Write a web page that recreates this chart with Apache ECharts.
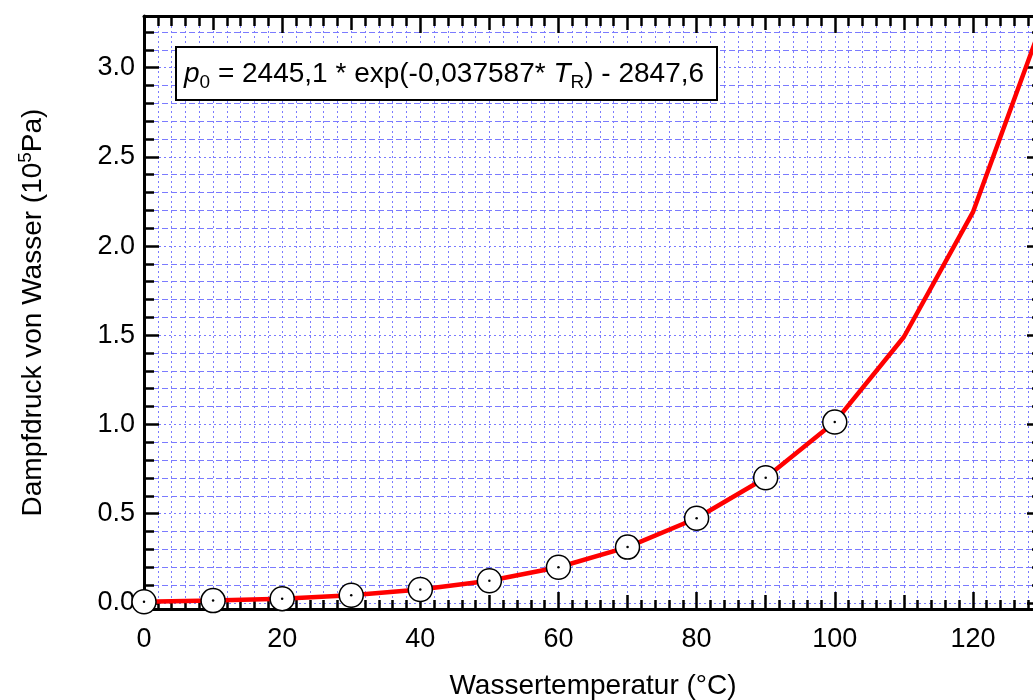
<!DOCTYPE html>
<html>
<head>
<meta charset="utf-8">
<script src="https://cdn.jsdelivr.net/npm/echarts@6/dist/echarts.min.js"></script>
<style>html,body{margin:0;padding:0;background:#fff;}#c{width:1033px;height:700px;}</style>
</head>
<body>
<div id="c"></div>
<script>
// ---- data ----
const temps = [0, 10, 20, 30, 40, 50, 60, 70, 80, 90, 100, 110, 120, 130];
const pressure = [0.006, 0.012, 0.023, 0.042, 0.074, 0.123, 0.199, 0.312, 0.474, 0.701, 1.013, 1.49, 2.19, 3.25];
const markedTemps = [0, 10, 20, 30, 40, 50, 60, 70, 80, 90, 100];

// ---- ticks ----
const xMajor = [0, 20, 40, 60, 80, 100, 120];
const xMid = [10, 30, 50, 70, 90, 110];
const xMinor = [];
for (let v = 2; v < 130; v += 2) xMinor.push(v);
const yMajor = [0, 0.5, 1.0, 1.5, 2.0, 2.5, 3.0];
const yMinor = [];
for (let i = 1; i <= 32; i++) { if (i % 5 !== 0) yMinor.push(+(i / 10).toFixed(1)); }

const X_MIN = 0, X_MAX = 130, Y_MIN = -0.035, Y_MAX = 3.29;
const FONT = '"Liberation Sans", Arial, sans-serif';
const gridBlue = '#7b7bff';

function mkX(position, values, len, extra) {
  return Object.assign({
    type: 'value', position: position, min: X_MIN, max: X_MAX,
    axisLine: { show: false, onZero: false },
    axisLabel: { show: false },
    splitLine: { show: false },
    axisTick: { show: true, inside: true, length: len, customValues: values, lineStyle: { color: '#000', width: 2.5 } }
  }, extra || {});
}
function mkY(position, values, len, extra) {
  return Object.assign({
    type: 'value', position: position, min: Y_MIN, max: Y_MAX,
    axisLine: { show: false, onZero: false },
    axisLabel: { show: false },
    splitLine: { show: false },
    axisTick: { show: true, inside: true, length: len, customValues: values, lineStyle: { color: '#000', width: 2.5 } }
  }, extra || {});
}

const xAxes = [
  mkX('bottom', xMajor, 17, {
    axisLine: { show: true, onZero: false, lineStyle: { color: '#000', width: 3 } },
    axisLabel: { show: true, customValues: xMajor, margin: 17, color: '#000', fontSize: 27, fontFamily: FONT },
    name: 'Wassertemperatur (°C)', nameLocation: 'middle', nameGap: 63,
    nameTextStyle: { color: '#000', fontSize: 28, fontFamily: FONT }
  }),
  mkX('bottom', xMid, 14),
  mkX('bottom', xMinor, 9, { splitLine: { show: true, lineStyle: { color: gridBlue, width: 1, type: [2, 3] } } }),
  mkX('top', xMajor, 17, { axisLine: { show: true, onZero: false, lineStyle: { color: '#000', width: 3 } } }),
  mkX('top', xMid, 14),
  mkX('top', xMinor, 10)
];

const yAxes = [
  mkY('left', yMajor, 15, {
    axisLine: { show: true, onZero: false, lineStyle: { color: '#000', width: 3 } },
    axisLabel: { show: true, customValues: yMajor, margin: 9, color: '#000', fontSize: 27, fontFamily: FONT,
      formatter: function (v) { return v.toFixed(1); } },
    splitLine: { show: true, lineStyle: { color: gridBlue, width: 1, type: [2, 3] } },
    name: 'Dampfdruck von Wasser (10{sup|5}Pa)', nameLocation: 'middle', nameGap: 94, nameRotate: 90,
    nameTextStyle: { color: '#000', fontSize: 28, fontFamily: FONT, lineHeight: 34,
      rich: { sup: { fontSize: 19, fontFamily: FONT, color: '#000', verticalAlign: 'top', lineHeight: 16 } } }
  }),
  mkY('left', yMinor, 10, { splitLine: { show: true, lineStyle: { color: gridBlue, width: 1, type: [6, 3] } } }),
  mkY('right', yMajor, 15, { axisLine: { show: true, onZero: false, lineStyle: { color: '#000', width: 3 } } }),
  mkY('right', yMinor, 10)
];

const lineData = temps.map((t, i) => [t, pressure[i]]);
const markData = markedTemps.map(t => [t, pressure[temps.indexOf(t)]]);

const chart = echarts.init(document.getElementById('c'), null, { renderer: 'canvas' });
chart.setOption({
  animation: false,
  backgroundColor: '#fff',
  grid: { left: 144, top: 16, width: 898, height: 593, containLabel: false, outerBoundsMode: 'none' },
  xAxis: xAxes,
  yAxis: yAxes,
  series: [
    { type: 'line', xAxisIndex: 0, yAxisIndex: 0, data: lineData, showSymbol: false, symbol: 'none',
      lineStyle: { color: '#ff0000', width: 4.5 }, clip: false, z: 3 },
    { type: 'scatter', xAxisIndex: 0, yAxisIndex: 0, data: markData, symbol: 'circle', symbolSize: 24,
      itemStyle: { color: '#fff', borderColor: '#000', borderWidth: 1.5, opacity: 1 }, clip: false, z: 4 },
    { type: 'scatter', xAxisIndex: 0, yAxisIndex: 0, data: markData, symbol: 'circle', symbolSize: 2.5,
      itemStyle: { color: '#000', opacity: 1 }, clip: false, z: 5 }
  ],
  graphic: [
    { type: 'rect', z: 10, shape: { x: 176, y: 47, width: 541, height: 53 },
      style: { fill: '#fff', stroke: '#000', lineWidth: 2 } },
    { type: 'text', z: 11, x: 184, y: 74,
      style: {
        text: '{i|p}{sub|0}{n| = 2445,1 * exp(-0,037587* }{i|T}{sub|R}{n|) - 2847,6}',
        verticalAlign: 'middle', align: 'left',
        rich: {
          n: { fontSize: 28, fontFamily: FONT, fill: '#000', lineHeight: 36 },
          i: { fontSize: 28, fontFamily: FONT, fontStyle: 'italic', fill: '#000', lineHeight: 36 },
          sub: { fontSize: 19, fontFamily: FONT, fill: '#000', verticalAlign: 'bottom', lineHeight: 16 }
        }
      } }
  ]
});
</script>
</body>
</html>
